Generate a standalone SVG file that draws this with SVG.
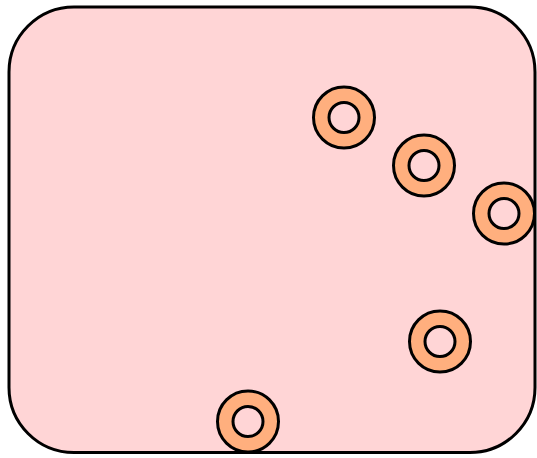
<svg xmlns="http://www.w3.org/2000/svg" width="537" height="458" viewBox="0 0 537 458">
<style>
.frame{fill:#FFD5D6;stroke:#000;stroke-width:3}
.ring{fill:#FFAF7E;stroke:#000;stroke-width:3}
.hole{fill:#FFD5D6;stroke:#000;stroke-width:3}
</style>
<defs>
<g id="ringshape"><circle class="ring" r="30.5"/><circle class="hole" r="15"/></g>
</defs>
<g id="frame"><rect class="frame" x="9" y="7" width="526" height="445.5" rx="65" ry="65"/></g>
<g id="connectors"></g>
<g id="ring1"><use href="#ringshape" x="344" y="117.5"/></g>
<g id="ring2"><use href="#ringshape" x="424" y="165.5"/></g>
<g id="ring3"><use href="#ringshape" x="504" y="213.5"/></g>
<g id="ring4"><use href="#ringshape" x="440" y="341.5"/></g>
<g id="ring5"><use href="#ringshape" x="248" y="421.5"/></g>
</svg>
